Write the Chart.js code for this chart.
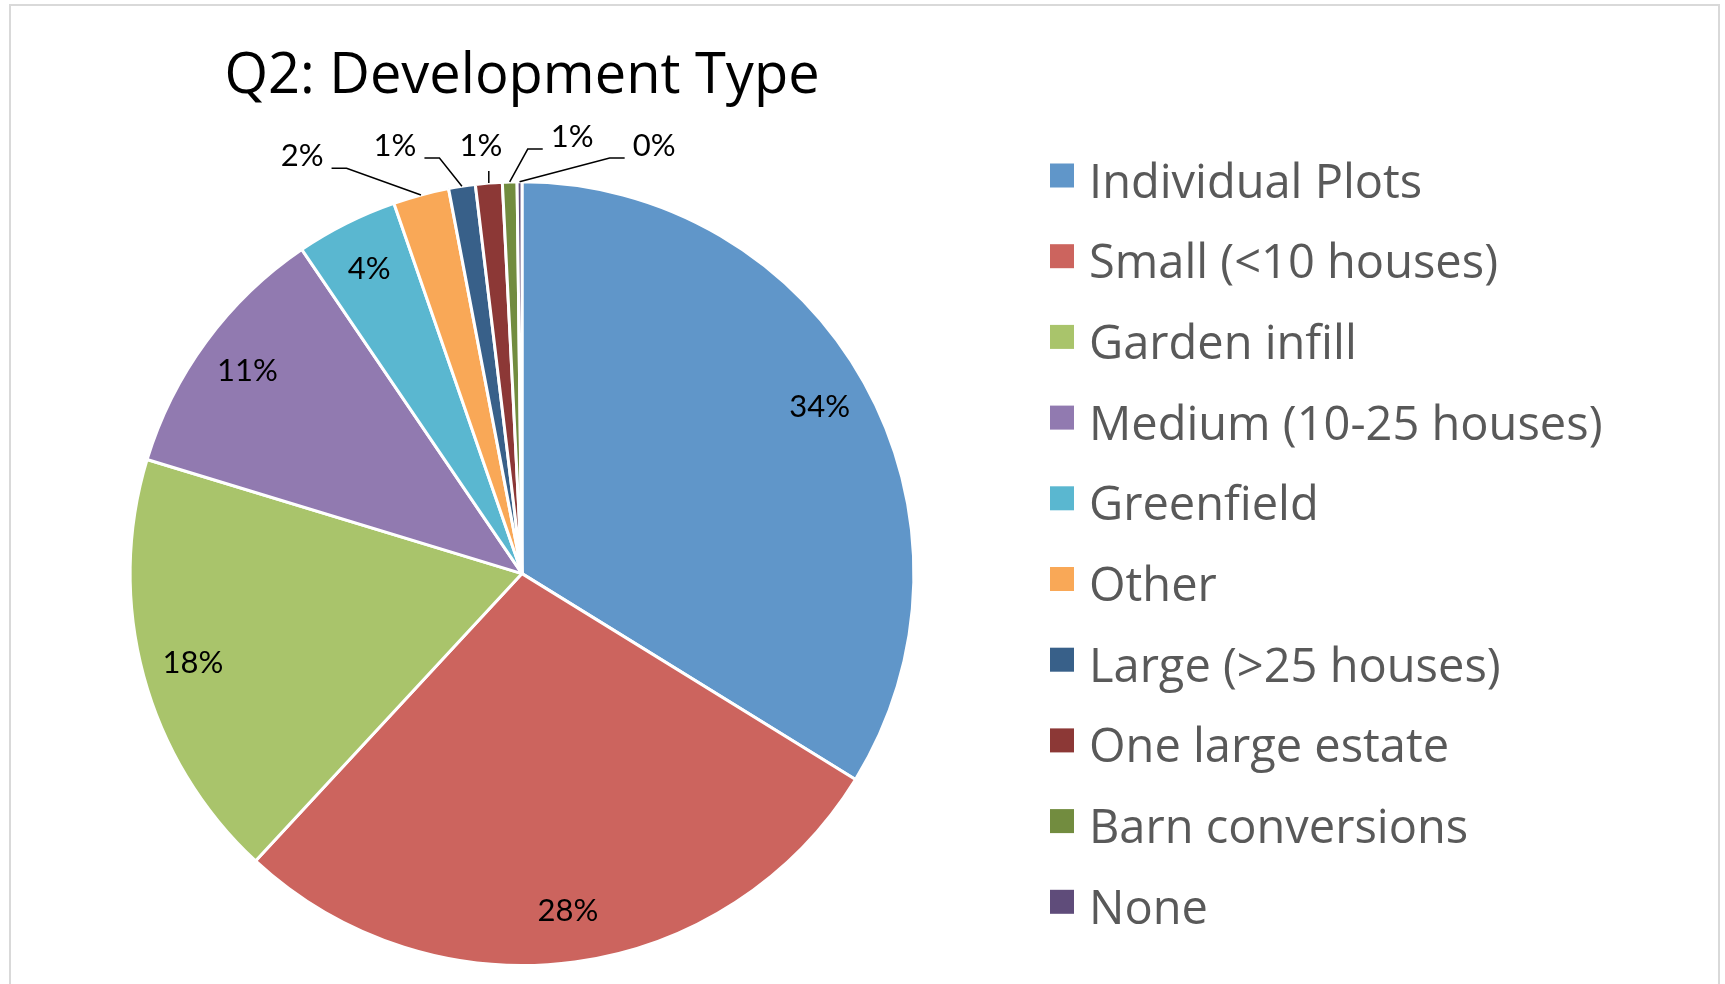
<!DOCTYPE html>
<html><head><meta charset="utf-8">
<script src="https://cdn.jsdelivr.net/npm/chart.js@4"></script>
<style>html,body{margin:0;padding:0;background:#fff}canvas{display:block}</style>
</head><body>
<canvas id="c" width="1725" height="984"></canvas>
<script>
const categories = ['Individual Plots','Small (<10 houses)','Garden infill','Medium (10-25 houses)','Greenfield','Other','Large (>25 houses)','One large estate','Barn conversions','None'];
const shares = [33.8, 28.1, 17.8, 10.8, 4.2, 2.3, 1.1, 1.1, 0.6, 0.2];
const sliceColors = ['#6096C9','#CC645E','#A9C46B','#917AB0','#5AB7D0','#F9A857','#386089','#8C3836','#728C3F','#5F4C7A'];
const titleText = 'Q2: Development Type';

const FONT = 'Lato, "Open Sans", sans-serif';
const WIDE = '"Open Sans", Lato, sans-serif';

const frame = {
  id: 'frame',
  beforeDraw(chart) {
    const c = chart.ctx;
    c.save();
    c.fillStyle = '#fff';
    c.fillRect(0, 0, chart.width, chart.height);
    c.strokeStyle = '#D9D9D9';
    c.lineWidth = 2;
    c.strokeRect(10, 5, 1709, 1010);
    c.restore();
  }
};

const pieLabels = {
  id: 'pieLabels',
  afterDatasetsDraw(chart, args, opts) {
    const c = chart.ctx;
    const meta = chart.getDatasetMeta(0);
    const data = chart.data.datasets[0].data;
    const total = data.reduce((a, b) => a + b, 0);
    c.save();
    c.font = opts.size + 'px ' + FONT;
    c.fillStyle = '#000';
    c.strokeStyle = '#000';
    c.lineWidth = 1.5;
    c.textAlign = 'center';
    c.textBaseline = 'middle';
    meta.data.forEach((arc, i) => {
      const p = arc.getProps(['x','y','startAngle','endAngle','outerRadius'], true);
      const R = p.outerRadius;
      const mid = (p.startAngle + p.endAngle) / 2;
      const txt = Math.round(data[i] / total * 100) + '%';
      const off = opts.outside[i];
      if (off) {
        const lx = p.x + off[0] * R, ly = p.y + off[1] * R;
        c.fillText(txt, lx, ly);
        const ax = p.x + Math.cos(mid) * R, ay = p.y + Math.sin(mid) * R;
        const w = c.measureText(txt).width;
        c.beginPath();
        if (Math.abs(ax - lx) < 10) {
          c.moveTo(ax, ly + 25); c.lineTo(ax, ay);
        } else if (ax > lx) {
          const sx = lx + w / 2 + 8, sy = ly + 12;
          c.moveTo(sx, sy); c.lineTo(sx + 15, sy); c.lineTo(ax, ay);
        } else {
          const sx = lx - w / 2 - 8, sy = ly + 12;
          c.moveTo(sx, sy); c.lineTo(sx - 15, sy); c.lineTo(ax, ay);
        }
        c.stroke();
      } else {
        const d = opts.inside * R;
        c.fillText(txt, p.x + Math.cos(mid) * d, p.y + Math.sin(mid) * d);
      }
    });
    c.restore();
  }
};

const sideLegend = {
  id: 'sideLegend',
  afterDraw(chart, args, opts) {
    const c = chart.ctx;
    const labels = chart.data.labels;
    const cols = chart.data.datasets[0].backgroundColor;
    c.save();
    c.font = opts.size + 'px ' + WIDE;
    c.textAlign = 'left';
    c.textBaseline = 'alphabetic';
    labels.forEach((lab, i) => {
      const cy = opts.firstY + i * opts.step;
      c.fillStyle = cols[i];
      c.fillRect(opts.x, cy - opts.box / 2, opts.box, opts.box);
      c.fillStyle = '#595959';
      c.fillText(lab, opts.textX, cy + opts.baseOff);
    });
    c.restore();
  }
};

function build() {
  new Chart(document.getElementById('c'), {
    type: 'pie',
    data: {
      labels: categories,
      datasets: [{ data: shares, backgroundColor: sliceColors, borderColor: '#fff', borderWidth: 3 }]
    },
    options: {
      responsive: false,
      animation: false,
      layout: { padding: { left: 128, right: 809, top: 0, bottom: 17 } },
      plugins: {
        legend: { display: false },
        tooltip: { enabled: false },
        title: {
          display: true, text: titleText, color: '#000',
          font: { family: WIDE, size: 56, weight: 'normal' },
          padding: { top: 43, bottom: 70 }
        },
        pieLabels: {
          size: 31, inside: 0.87,
          outside: { 5: [-0.561, -1.065], 6: [-0.324, -1.091], 7: [-0.105, -1.091], 8: [0.128, -1.114], 9: [0.337, -1.091] }
        },
        sideLegend: { x: 1050, box: 24, firstY: 175.5, step: 80.7, textX: 1089, baseOff: 22, size: 47 }
      }
    },
    plugins: [frame, pieLabels, sideLegend]
  });
}
if (document.fonts && document.fonts.load) {
  Promise.all([document.fonts.load('31px Lato'), document.fonts.load('47px "Open Sans"')]).then(build, build);
} else build();
</script>
</body></html>
